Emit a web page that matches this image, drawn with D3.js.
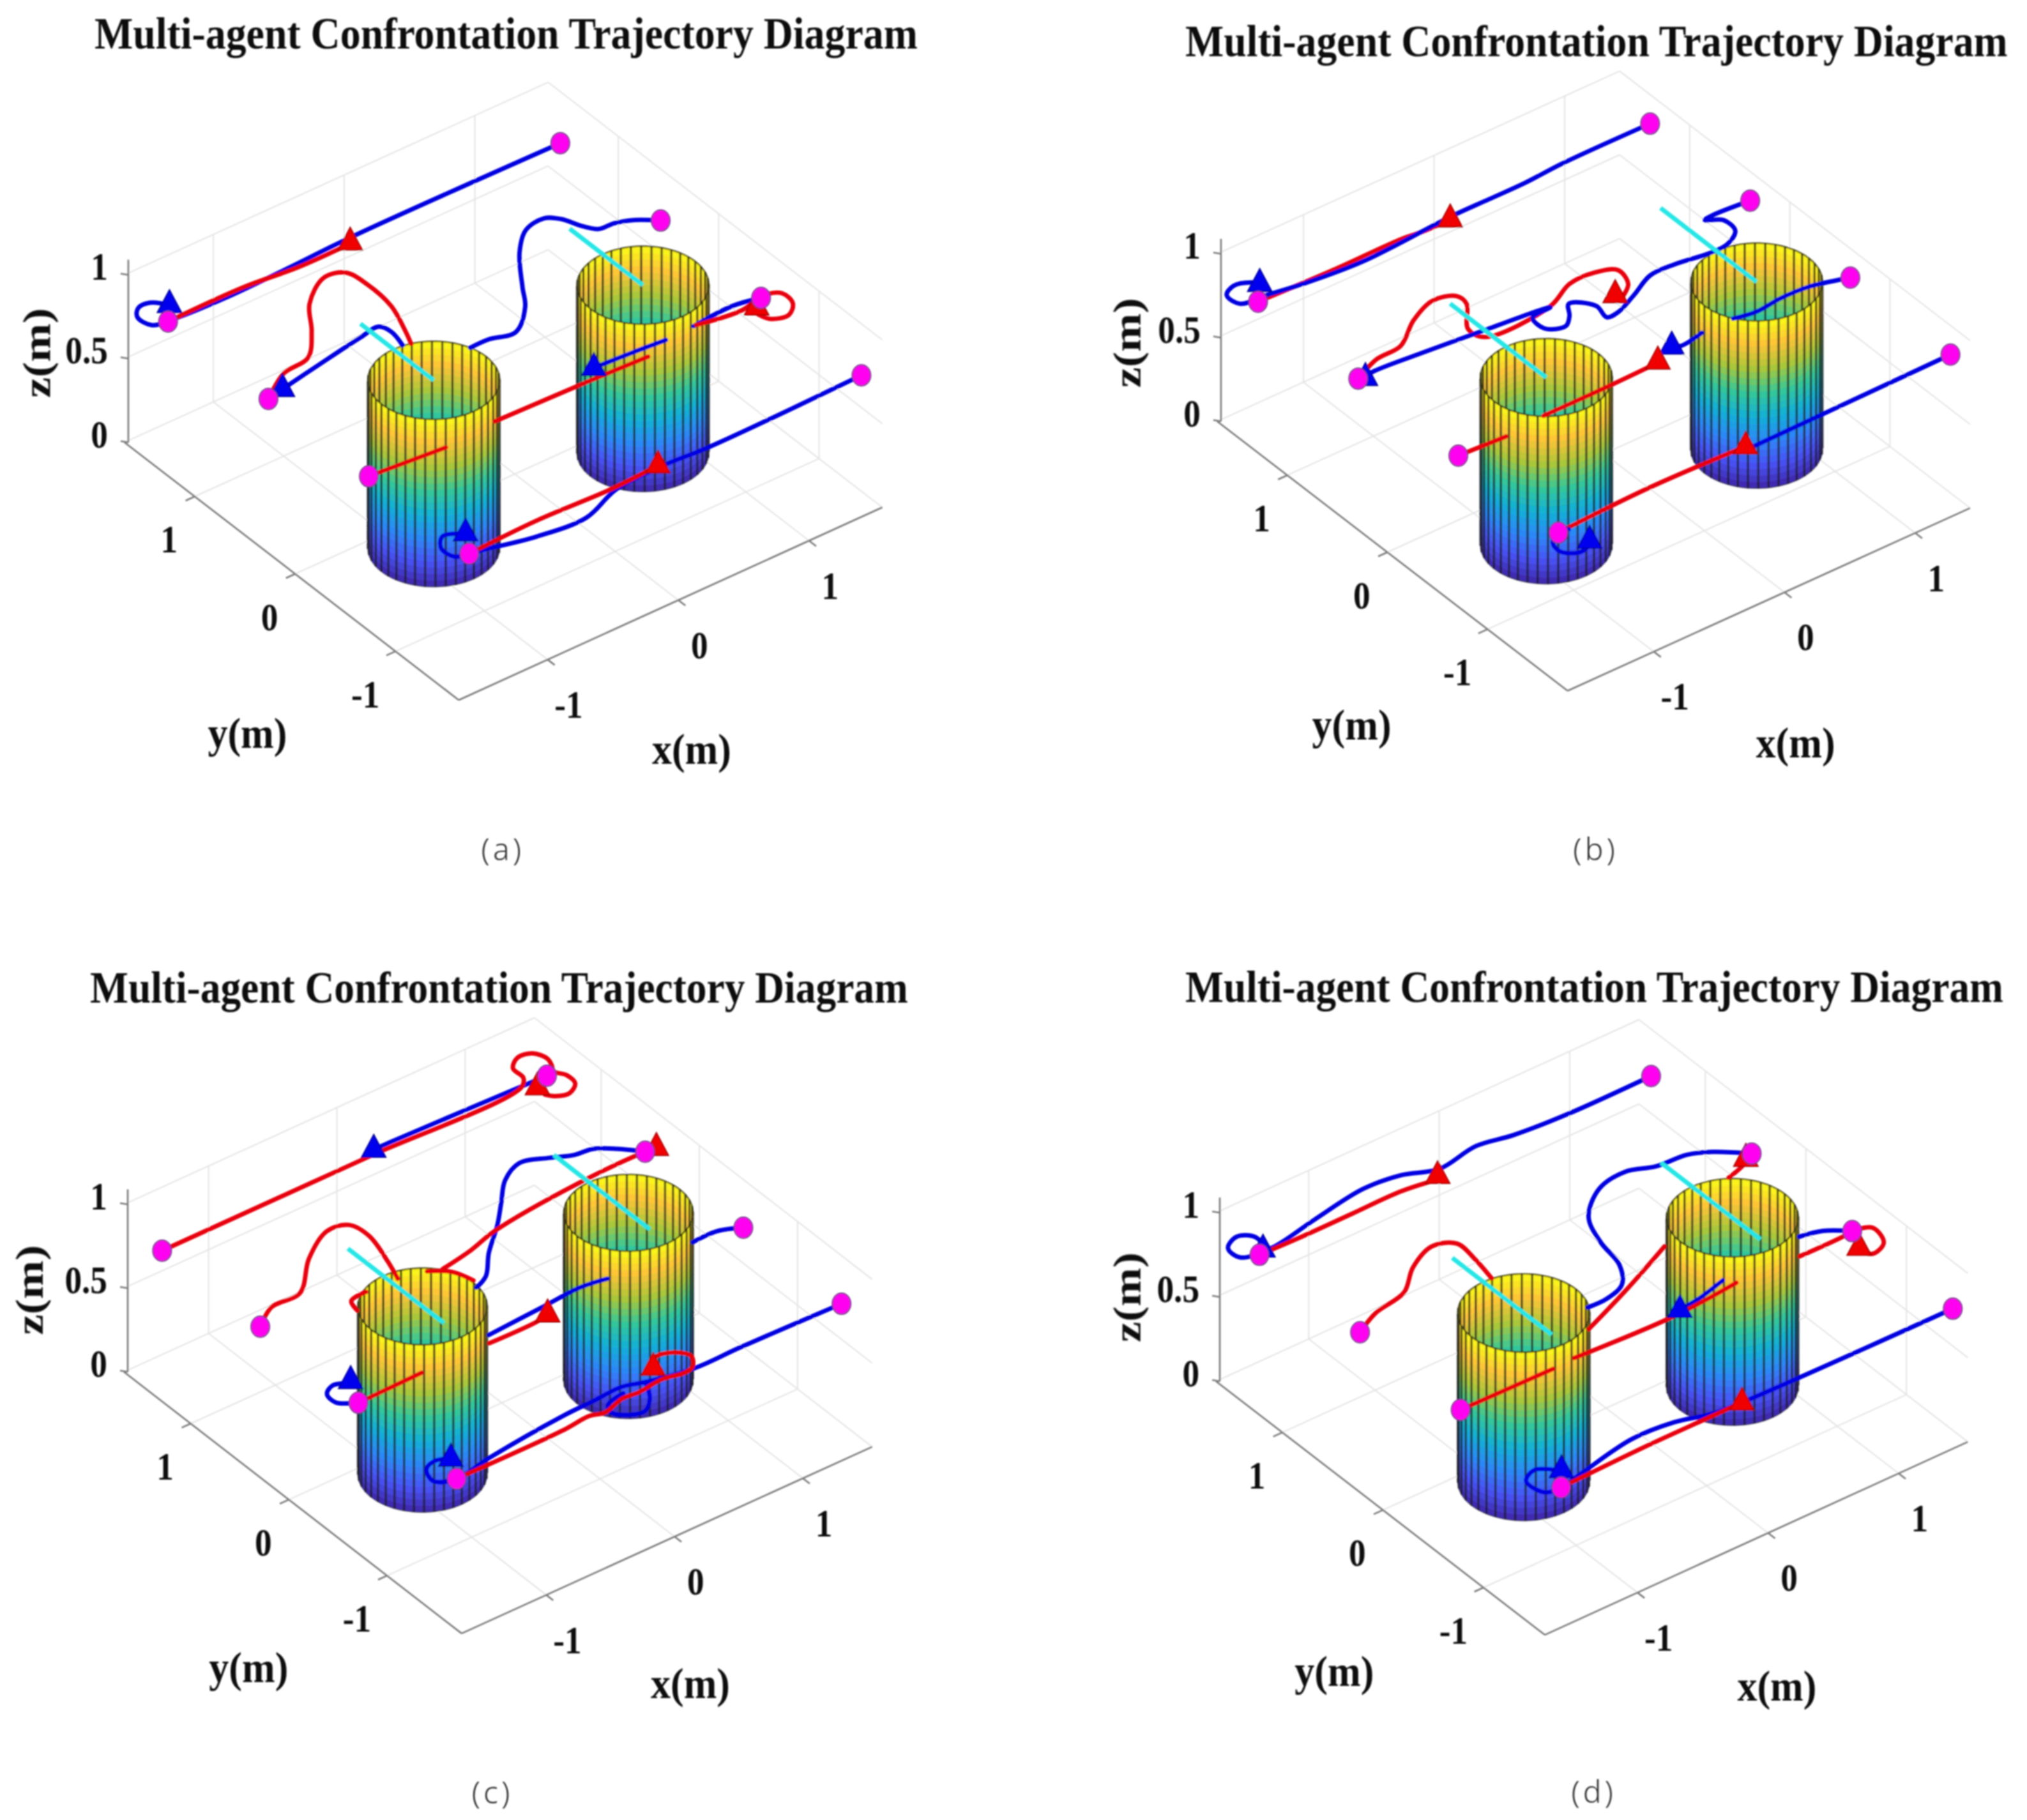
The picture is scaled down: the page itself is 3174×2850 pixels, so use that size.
<!DOCTYPE html>
<html><head><meta charset="utf-8">
<script src="https://cdn.jsdelivr.net/npm/d3@7"></script>
<style>html,body{margin:0;padding:0;background:#fff}svg{display:block}</style>
</head><body><svg id="fig" width="3174" height="2850"></svg>
<script>
const titleText = "Multi-agent Confrontation Trajectory Diagram";
const xTicks = [-1, 0, 1];
const yTicks = [-1, 0, 1];
const zTicks = [0, 0.5, 1];
const zTickLabels = ["0", "0.5", "1"];
const agentZ = 0.75;
const cylinderRadius = 0.4;
const cylinderHeight = 1;
const startX = [-1.5, 1.5];
const startY = [1.5, 0.5, -0.5, -1.5];

const parulaStops = ["#3e26a8","#4752f4","#2d87f7","#12b1d6","#37c897","#abc739","#fec338","#f9fb15"];

const cylXA = [-0.85, 0.75], cylYA = [-0.3, -0.3], cyanYA = [-0.3, 0.43];
const cylXB = [-0.85, 0.76], cylYB = [-0.53, -0.53], cyanYB = [-0.53, 0.43];
const cylXC = [-0.84, 0.765], cylYC = [-0.29, -0.29], cyanYC = [-0.51, 0.47];
const cylXD = [-0.855, 0.744], cylYD = [-0.29, -0.29], cyanYD = [-0.57, 0.42];

const blueA = [
 [[1.5,1.5],[-.08,1.51],[-.6,1.49],[-1.07,1.48],[-1.46,1.5],[-1.6,1.53],[-1.62,1.65],[-1.56,1.72],[-1.47,1.72],[-1.39,1.63]],
 [[1.5,.5],[1.38,.6],[1.26,.65],[1.15,.66],[1.09,.74],[1.03,.88],[.95,.95],[.79,.92],[.62,.76],[.42,.47],[.31,.3],[.11,.13],[-.07,.17],[-.21,.17]],
 [[-.52,.44],[-.49,.59],[-.52,.68],[-.67,.66],[-1.05,.59],[-1.36,.53]],
 [[1.5,-.5],[1.31,-.46],[1,-.48]],
 [[.78,-.49],[.56,-.47],[.26,-.45]],
 [[1.5,-1.5],[.32,-1.52],[-.02,-1.5],[-.39,-1.52],[-.71,-1.64],[-1.07,-1.61],[-1.41,-1.52],[-1.5,-1.5],[-1.59,-1.47],[-1.6,-1.35],[-1.52,-1.26],[-1.39,-1.33]]
];
const redA = [
 [[-1.5,1.5],[-.92,1.5],[-.53,1.46],[-.12,1.46]],
 [[-1.5,.5],[-1.27,.65],[-1.05,.69],[-.87,.89],[-.71,1.12],[-.48,1.28],[-.34,1.24],[-.31,1.07],[-.33,.8],[-.42,.54],[-.47,.42]],
 [[-1.5,-.5],[-.95,-.55]],
 [[-.55,-.52],[.14,-.54],[.59,-.56]],
 [[1.02,-.48],[1.33,-.53],[1.53,-.49],[1.63,-.54],[1.62,-.66],[1.53,-.74],[1.41,-.7],[1.38,-.59]],
 [[-1.5,-1.5],[-.96,-1.48],[-.41,-1.5],[-.04,-1.48]]
];
const blueTriA = [[-1.39,1.63],[-1.37,.53],[.26,-.45],[-1.39,-1.32]];
const redTriA = [[-.13,1.47],[1.42,-.56],[-.04,-1.48]];

const blueB = [
 [[1.5,1.5],[.83,1.5],[.53,1.48],[.25,1.48],[-.04,1.48],[-.74,1.44],[-1.18,1.48],[-1.41,1.52],[-1.6,1.55],[-1.61,1.67],[-1.52,1.72],[-1.41,1.68],[-1.38,1.64]],
 [[1.5,.5],[1.22,.52],[1.16,.51],[1.25,.44],[1.24,.31],[1.12,.23],[.99,.22],[.74,.26],[.55,.26],[.35,.16],[.17,.08],[.08,.08],[.1,.21],[-.02,.33],[-.09,.23],[-.17,.16],[-.29,.22],[-.28,.35],[-.13,.37],[-.61,.43],[-1,.47],[-1.41,.5],[-1.46,.48]],
 [[1.5,-.5],[1.32,-.44],[1.24,-.42],[1.04,-.41],[.83,-.43],[.68,-.4]],
 [[.44,-.4],[.26,-.43],[.21,-.4]],
 [[1.5,-1.5],[-.08,-1.52]],
 [[-1.43,-1.51],[-1.5,-1.5],[-1.59,-1.56],[-1.61,-1.66],[-1.51,-1.74],[-1.4,-1.7]]
];
const redB = [
 [[-1.5,1.5],[-.94,1.48],[-.42,1.48],[-.25,1.46],[-.06,1.46]],
 [[-1.5,.5],[-1.29,.59],[-1.09,.61],[-.87,.77],[-.66,.86],[-.51,.81],[-.51,.71],[-.66,.5],[-.63,.37],[-.12,.38],[.11,.49],[.3,.49],[.43,.42],[.39,.27],[.27,.18]],
 [[-1.5,-.5],[-1.15,-.52]],
 [[-.84,-.49],[-.36,-.49],[.05,-.48]],
 [[-1.5,-1.5],[-.78,-1.47],[-.06,-1.49]]
];
const blueTriB = [[-1.38,1.64],[-1.46,.48],[.21,-.4],[-1.4,-1.68]];
const redTriB = [[-.06,1.46],[.26,.23],[.05,-.47],[-.06,-1.49]];

const blueC = [
 [[1.5,1.5],[.31,1.54],[.18,1.54]],
 [[1.5,.5],[1.38,.63],[1.26,.72],[1.13,.74],[.99,.81],[.81,.88],[.63,.79],[.47,.62],[.31,.45],[.09,.25],[-.07,.07],[-.19,.01]],
 [[1.5,-.5],[1.35,-.43],[1.16,-.43]],
 [[.51,-.41],[.32,-.38],[.02,-.4],[-.43,-.43]],
 [[-1.5,-.5],[-1.61,-.41],[-1.6,-.31],[-1.52,-.26],[-1.41,-.31]],
 [[1.5,-1.5],[.73,-1.48],[.37,-1.48],[.04,-1.41],[-.11,-1.36],[-.33,-1.37],[-.58,-1.38],[-1.21,-1.45],[-1.5,-1.5],[-1.63,-1.43],[-1.59,-1.31],[-1.5,-1.27],[-1.4,-1.31]],
 [[.04,-1.41],[-.04,-1.56],[-.15,-1.65],[-.32,-1.54],[-.29,-1.46],[-.14,-1.42]]
];
const redC = [
 [[-1.5,1.5],[-.34,1.5],[.14,1.5],[1.3,1.5],[1.37,1.57],[1.38,1.69],[1.47,1.76],[1.57,1.74],[1.61,1.64],[1.59,1.57],[1.56,1.51],[1.6,1.43],[1.59,1.33],[1.5,1.27],[1.41,1.3],[1.37,1.35]],
 [[-1.5,.5],[-1.32,.62],[-1.09,.63],[-.83,.88],[-.57,1.04],[-.42,1.01],[-.39,.84],[-.46,.56],[-.52,.38]],
 [[-.92,.27],[-.89,.37],[-.76,.39]],
 [[-.33,.33],[-.21,.23],[-.16,.08]],
 [[-.24,.29],[.02,.34],[.26,.41],[.97,.49],[1.48,.5],[1.58,.49]],
 [[-1.5,-.5],[-1,-.49]],
 [[-.48,-.5],[-.1,-.5],[-.01,-.48]],
 [[-1.5,-1.5],[-.68,-1.5],[-.45,-1.48],[-.35,-1.51],[-.18,-1.46],[-.06,-1.47],[.14,-1.45],[.29,-1.48],[.37,-1.46],[.43,-1.37],[.4,-1.3],[.3,-1.24],[.22,-1.24]]
];
const blueTriC = [[.18,1.54],[-1.4,-.29],[-1.4,-1.31]];
const redTriC = [[1.38,1.44],[1.58,.49],[-.01,-.48],[.17,-1.32]];

const blueD = [
 [[1.5,1.5],[.87,1.5],[.47,1.53],[.22,1.58],[-.1,1.53],[-.32,1.62],[-.59,1.65],[-1.02,1.58],[-1.4,1.51],[-1.61,1.55],[-1.61,1.67],[-1.5,1.73],[-1.41,1.66],[-1.43,1.52]],
 [[1.5,.5],[1.32,.66],[1.18,.73],[.96,.75],[.78,.82],[.55,.78],[.32,.59],[.22,.34],[.17,.09],[.06,-.08],[-.1,-.14],[-.25,-.14]],
 [[1.5,-.5],[1.36,-.39],[1.21,-.35]],
 [[.57,-.42],[.34,-.48],[.18,-.5]],
 [[1.5,-1.5],[-.1,-1.48],[-.32,-1.46],[-.55,-1.39],[-.86,-1.37],[-1.31,-1.46],[-1.5,-1.5],[-1.61,-1.48],[-1.63,-1.32],[-1.52,-1.26],[-1.41,-1.35]]
];
const redD = [
 [[-1.5,1.5],[-1.18,1.49],[-.8,1.49],[-.42,1.49],[-.17,1.45]],
 [[-1.5,.5],[-1.3,.6],[-1.04,.66],[-.84,.83],[-.62,.93],[-.48,.86],[-.49,.67],[-.53,.45]],
 [[-.38,-.32],[.07,-.13],[.5,.07]],
 [[1.24,.39],[1.39,.44],[1.44,.48]],
 [[-1.5,-.5],[-.8,-.51]],
 [[-.63,-.5],[.12,-.53],[.62,-.49]],
 [[1.09,-.51],[1.42,-.51],[1.5,-.5],[1.62,-.55],[1.58,-.71],[1.46,-.76],[1.42,-.69],[1.43,-.66]],
 [[-1.5,-1.5],[-.81,-1.48],[-.38,-1.48],[-.1,-1.48]]
];
const blueTriD = [[-1.45,1.53],[.18,-.5],[-1.39,-1.36]];
const redTriD = [[-.15,1.48],[1.44,.48],[1.43,-.66],[-.1,-1.48]];

// layout: each panel's projection, as measured in the reference
const panels = [
 {caption:"(a)", fx:.9566, fy:.88, off:[0,0], O:[842.6,843.5], ex:[214,-105.8], ey:[-164.3,-137.7], c:298, xlim:[-1.68,1.56], ylim:[-1.63,1.7],
  title:[148,1437,76], xl:[1132,1333], yl:[405,1305], zl:[60,628], cap:[823,1510], cylX:cylXA, cylY:cylYA, cyanY:cyanYA, blue:blueA, red:redA, bt:blueTriA, rt:redTriA, blueTop:false},
 {caption:"(b)", fx:.972, fy:.88, off:[1650,0], O:[886.9,807.4], ex:[210.5,-105.6], ey:[-161.3,-137], c:298, xlim:[-1.66,1.42], ylim:[-1.8,1.7],
  title:[1856,3144,88], xl:[1195,1322], yl:[480,1290], zl:[118,610], cap:[873,1510], cylX:cylXB, cylY:cylYB, cyanY:cyanYB, blue:blueB, red:redB, bt:blueTriB, rt:redTriB, blueTop:true},
 {caption:"(c)", fx:.9566, fy:.88, off:[0,1470], O:[821.4,825.8], ex:[210,-103.8], ey:[-160.7,-135.3], c:298, xlim:[-1.66,1.54], ylim:[-1.76,1.68],
  title:[141,1422,1570], xl:[1130,1325], yl:[407,1297], zl:[48,625], cap:[806,1518], cylX:cylXC, cylY:cylYC, cyanY:cyanYC, blue:blueC, red:redC, bt:blueTriC, rt:redTriC, blueTop:false},
 {caption:"(d)", fx:.972, fy:.88, off:[1650,1470], O:[889.9,835.3], ex:[210.3,-106], ey:[-162,-138], c:300, xlim:[-1.71,1.53], ylim:[-1.61,1.66],
  title:[1856,3137,1569], xl:[1165,1330], yl:[452,1303], zl:[118,638], cap:[870,1517], cylX:cylXD, cylY:cylYD, cyanY:cyanYD, blue:blueD, red:redD, bt:blueTriD, rt:redTriD, blueTop:false}
];

const SERIF = "'Liberation Serif','Times New Roman',serif";
const svg = d3.select("#fig");
svg.append("defs").append("filter").attr("id","soft").attr("x","-2%").attr("y","-2%").attr("width","104%").attr("height","104%")
  .append("feGaussianBlur").attr("stdDeviation",1.3);

const parula = d3.scaleLinear().domain(d3.range(parulaStops.length).map(i=>i/(parulaStops.length-1))).range(parulaStops).interpolate(d3.interpolateRgb);
const lin = a => d3.scaleLinear().domain([0,1]).range([0,a]);

// narrow a serif text horizontally to a measured width, as the reference's glyphs are
function fit(t, len, x, y, rot=0){
  const natural=t.node().getComputedTextLength();
  t.attr("transform",`translate(${x},${y}) rotate(${rot}) scale(${len/natural},1)`);
}

panels.forEach(p=>{
  const g = svg.append("g").attr("filter","url(#soft)");
  const xh=lin(p.ex[0]), xv=lin(p.ex[1]), yh=lin(p.ey[0]), yv=lin(p.ey[1]), zv=lin(-p.c);
  const px = d=>p.off[0]+p.fx*d, py = d=>p.off[1]+p.fy*d;
  const P = (x,y,z)=>[px(p.O[0]+xh(x)+yh(y)), py(p.O[1]+xv(x)+yv(y)+zv(z))];
  const seg = (a,b,col,w,o=1)=>g.append("line").attr("x1",a[0]).attr("y1",a[1]).attr("x2",b[0]).attr("y2",b[1]).attr("stroke",col).attr("stroke-width",w).attr("stroke-opacity",o);
  const [x0,x1]=p.xlim, [y0,y1]=p.ylim;
  const GRID="#e4e4e4", AXIS="#7a7a7a";

  // grid on floor and the two back walls
  xTicks.forEach(t=>{ seg(P(t,y0,0),P(t,y1,0),GRID,2); seg(P(t,y1,0),P(t,y1,1),GRID,2); });
  yTicks.forEach(t=>{ seg(P(x0,t,0),P(x1,t,0),GRID,2); seg(P(x1,t,0),P(x1,t,1),GRID,2); });
  zTicks.forEach(t=>{ seg(P(x0,y1,t),P(x1,y1,t),GRID,2); seg(P(x1,y1,t),P(x1,y0,t),GRID,2); });

  // axes
  seg(P(x0,y0,0),P(x1,y0,0),AXIS,2.6);
  seg(P(x0,y0,0),P(x0,y1,0),AXIS,2.6);
  const zb=P(x0,y1,0); const zt=P(x0,y1,1.09);
  seg([zb[0]+6,zb[1]],[zt[0]+6,zt[1]],AXIS,2.6);
  const tickText=(s,x,y,anchor)=>{
    const t=g.append("text").text(s).attr("font-family",SERIF).attr("font-weight","bold").attr("font-size",62).attr("dominant-baseline","central").attr("fill","#111").attr("text-anchor",anchor);
    fit(t,t.node().getComputedTextLength()*.86,x,y);
  };
  xTicks.forEach(t=>{ const a=P(t,y0,0); seg(a,P(t,y0-.07,0),AXIS,2.6); tickText(t,a[0]+33,a[1]+70,"middle"); });
  yTicks.forEach(t=>{ const a=P(x0,t,0); seg(a,P(x0-.07,t,0),AXIS,2.6); tickText(t,a[0]-40-(t<0?7:0),a[1]+67,"middle"); });
  zTicks.forEach((t,i)=>{ const a=P(x0,y1,t); seg([a[0]+6,a[1]],[a[0]-6,a[1]-2],AXIS,2.6); tickText(zTickLabels[i],a[0]-26,a[1]-13,"end"); });

  // cylinders
  const facets=40, rows=26;
  p.cylX.forEach((cx,k)=>{
    const cy=p.cylY[k];
    const pt=(a,z)=>P(cx+cylinderRadius*Math.cos(a),cy+cylinderRadius*Math.sin(a),z);
    const ang=d3.range(facets).map(i=>i/facets*2*Math.PI);
    const step=2*Math.PI/facets;
    const isFront=a=>{const m=a+step/2; return xv(Math.cos(m))+yv(Math.sin(m))>0;};
    const drawSet=set=>{
      set.forEach(a=>{
        d3.range(rows).forEach(r=>{
          const z0=cylinderHeight*r/rows, z1=cylinderHeight*(r+1)/rows;
          const q=[pt(a,z0),pt(a+step,z0),pt(a+step,z1),pt(a,z1)];
          const col=parula((r+.5)/rows);
          g.append("polygon").attr("points",q.map(d=>d.join(",")).join(" ")).attr("fill",col).attr("stroke",col).attr("stroke-width",.7);
        });
      });
      set.forEach(a=>{ seg(pt(a,0),pt(a,cylinderHeight),"#1a1a1a",3.4,.72); });
    };
    drawSet(ang.filter(a=>!isFront(a)));
    drawSet(ang.filter(isFront));
    const ring=z=>d3.range(73).map(i=>pt(i/72*2*Math.PI,z));
    const frontRing=z=>d3.range(73).map(i=>i/72*2*Math.PI).filter(a=>xv(Math.cos(a))+yv(Math.sin(a))>=-0.5).sort((a,b)=>{
      const s=t=>px(p.O[0]+xh(cx+cylinderRadius*Math.cos(t))+yh(cy+cylinderRadius*Math.sin(t))); return s(a)-s(b);}).map(a=>pt(a,z));
    const rl=d3.line();
    g.append("path").attr("d",rl(ring(cylinderHeight))).attr("fill","none").attr("stroke","#2a2a10").attr("stroke-width",2.4).attr("stroke-opacity",.8);
    g.append("path").attr("d",rl(frontRing(0))).attr("fill","none").attr("stroke","#222").attr("stroke-width",2).attr("stroke-opacity",.5);
  });

  // trajectories
  const line=d3.line().x(d=>P(d[0],d[1],agentZ)[0]).y(d=>P(d[0],d[1],agentZ)[1]).curve(d3.curveCatmullRom.alpha(.5));
  const drawPaths=(arr,col)=>arr.forEach(a=>g.append("path").attr("d",line(a)).attr("fill","none").attr("stroke",col).attr("stroke-width",7).attr("stroke-linecap","round").attr("stroke-linejoin","round"));
  if(p.blueTop){ drawPaths(p.red,"#e8000c"); drawPaths(p.blue,"#0000e0"); }
  else { drawPaths(p.blue,"#0000e0"); drawPaths(p.red,"#e8000c"); }

  // cyan segments
  p.cylX.forEach(cx=>{ seg(P(cx,p.cyanY[0],1),P(cx,p.cyanY[1],1),"#27e6e6",7); });

  // markers
  const tri=d3.symbol().type(d3.symbolTriangle).size(640)();
  const drawTri=(arr,fill,edge)=>arr.forEach(d=>{ const a=P(d[0],d[1],agentZ);
    g.append("path").attr("d",tri).attr("transform",`translate(${a[0]},${a[1]}) scale(1,1.08)`).attr("fill",fill).attr("stroke",edge).attr("stroke-width",1.5); });
  drawTri(p.bt,"#0000ee","#000090");
  drawTri(p.rt,"#f00000","#a00000");
  startX.forEach(sx=>startY.forEach(sy=>{ const a=P(sx,sy,agentZ);
    g.append("ellipse").attr("cx",a[0]).attr("cy",a[1]).attr("rx",14.5).attr("ry",16.5).attr("fill","#ff00f0").attr("stroke","#7a3a90").attr("stroke-width",2); }));

  // title and labels
  const ttl=g.append("text").text(titleText).attr("font-family",SERIF).attr("font-weight","bold").attr("font-size",70).attr("fill","#111");
  fit(ttl,p.title[1]-p.title[0],p.title[0],p.title[2]);
  const lab=(xy,s)=>{
    const t=g.append("text").text(s).attr("font-family",SERIF).attr("font-weight","bold").attr("font-size",68).attr("text-anchor","middle").attr("dominant-baseline","central").attr("fill","#111");
    fit(t,124,px(xy[0]),py(xy[1]));
  };
  lab(p.xl,"x(m)");
  lab(p.yl,"y(m)");
  const zlab=g.append("text").text("z(m)").attr("font-family",SERIF).attr("font-weight","bold").attr("font-size",62).attr("text-anchor","middle").attr("dominant-baseline","central").attr("fill","#111");
  fit(zlab,141,px(p.zl[0]),py(p.zl[1]),-90);
  g.append("text").attr("x",px(p.cap[0])).attr("y",py(p.cap[1])).text(p.caption).attr("font-family","'Noto Sans','Open Sans',sans-serif").attr("font-weight",300).attr("font-size",48).attr("letter-spacing",5).attr("text-anchor","middle").attr("dominant-baseline","central").attr("fill","#333");
});
</script></body></html>
